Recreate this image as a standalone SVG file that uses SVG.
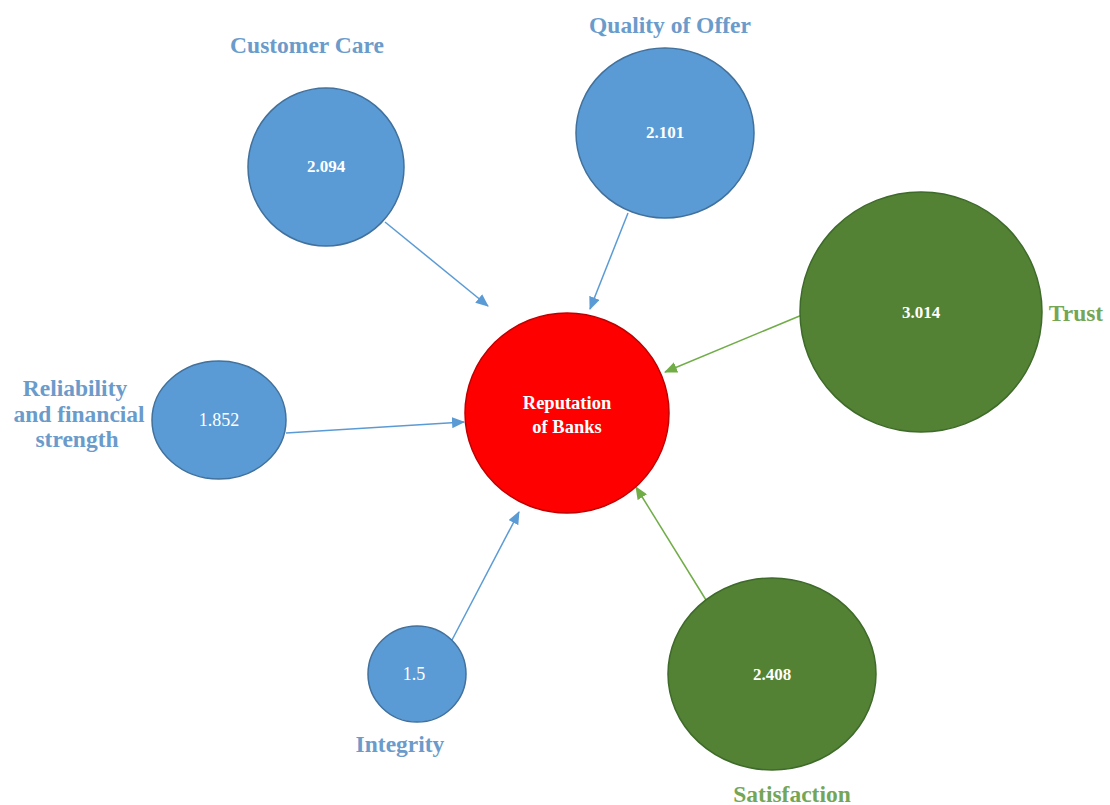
<svg xmlns="http://www.w3.org/2000/svg" width="1110" height="805" viewBox="0 0 1110 805">
<defs>
<style>
.blue{fill:#5B9BD5;stroke:#41719C;stroke-width:1.5}
.green{fill:#548235;stroke:#3E6A2A;stroke-width:1.5}
.red{fill:#FF0000;stroke:#C00000;stroke-width:1.5}
.val{font-family:"Liberation Serif",serif;font-weight:bold;font-size:17px;fill:#FFFFFF;text-anchor:middle}
.valr{font-family:"Liberation Serif",serif;font-weight:normal;font-size:18px;fill:#FFFFFF;text-anchor:middle}
.rep{font-family:"Liberation Serif",serif;font-weight:bold;font-size:18.5px;fill:#FFFFFF;text-anchor:middle}
.lb{font-family:"Liberation Serif",serif;font-weight:bold;font-size:23.5px;fill:#6A9BCB;text-anchor:middle}
.lg{font-family:"Liberation Serif",serif;font-weight:bold;font-size:23.5px;fill:#74A656;text-anchor:middle}
.cb{stroke:#5B9BD5;stroke-width:1.5;fill:none;marker-end:url(#ab)}
.cg{stroke:#70AD47;stroke-width:1.5;fill:none;marker-end:url(#ag)}
</style>
<marker id="ab" markerWidth="13" markerHeight="11" refX="12" refY="5.5" orient="auto" markerUnits="userSpaceOnUse"><path d="M0,0 L13,5.5 L0,11 Z" fill="#5B9BD5"/></marker>
<marker id="ag" markerWidth="13" markerHeight="11" refX="12" refY="5.5" orient="auto" markerUnits="userSpaceOnUse"><path d="M0,0 L13,5.5 L0,11 Z" fill="#70AD47"/></marker>
</defs>
<rect width="1110" height="805" fill="#FFFFFF"/>
<g id="connectors">
<line class="cb" x1="385" y1="222" x2="488" y2="306"/>
<line class="cb" x1="628" y1="213" x2="590" y2="309"/>
<line class="cg" x1="802" y1="315" x2="665" y2="372"/>
<line class="cb" x1="286" y1="433" x2="464" y2="422"/>
<line class="cb" x1="452" y1="640" x2="519" y2="512"/>
<line class="cg" x1="706" y1="600" x2="636" y2="487"/>
</g>
<g id="reputation">
<ellipse class="red" cx="567" cy="413" rx="102" ry="100"/>
<text class="rep" x="567" y="409">Reputation</text>
<text class="rep" x="567" y="433">of Banks</text>
</g>
<g id="customer-care">
<ellipse class="blue" cx="326" cy="167" rx="78" ry="79"/>
<text class="val" x="326" y="172">2.094</text>
<text class="lb" x="307" y="53">Customer Care</text>
</g>
<g id="quality-of-offer">
<ellipse class="blue" cx="665" cy="133" rx="89" ry="85"/>
<text class="val" x="665" y="138">2.101</text>
<text class="lb" x="670" y="33">Quality of Offer</text>
</g>
<g id="trust">
<ellipse class="green" cx="921" cy="312" rx="121" ry="120"/>
<text class="val" x="921" y="318">3.014</text>
<text class="lg" x="1076" y="321">Trust</text>
</g>
<g id="reliability">
<ellipse class="blue" cx="219" cy="420" rx="67" ry="59"/>
<text class="valr" x="219" y="426">1.852</text>
<text class="lb" x="75" y="396">Reliability</text>
<text class="lb" x="79" y="422">and financial</text>
<text class="lb" x="77" y="447">strength</text>
</g>
<g id="integrity">
<ellipse class="blue" cx="417" cy="674" rx="49" ry="48"/>
<text class="valr" x="414" y="680">1.5</text>
<text class="lb" x="400" y="752">Integrity</text>
</g>
<g id="satisfaction">
<ellipse class="green" cx="772" cy="674" rx="104" ry="96"/>
<text class="val" x="772" y="680">2.408</text>
<text class="lg" x="792" y="802">Satisfaction</text>
</g>
</svg>
